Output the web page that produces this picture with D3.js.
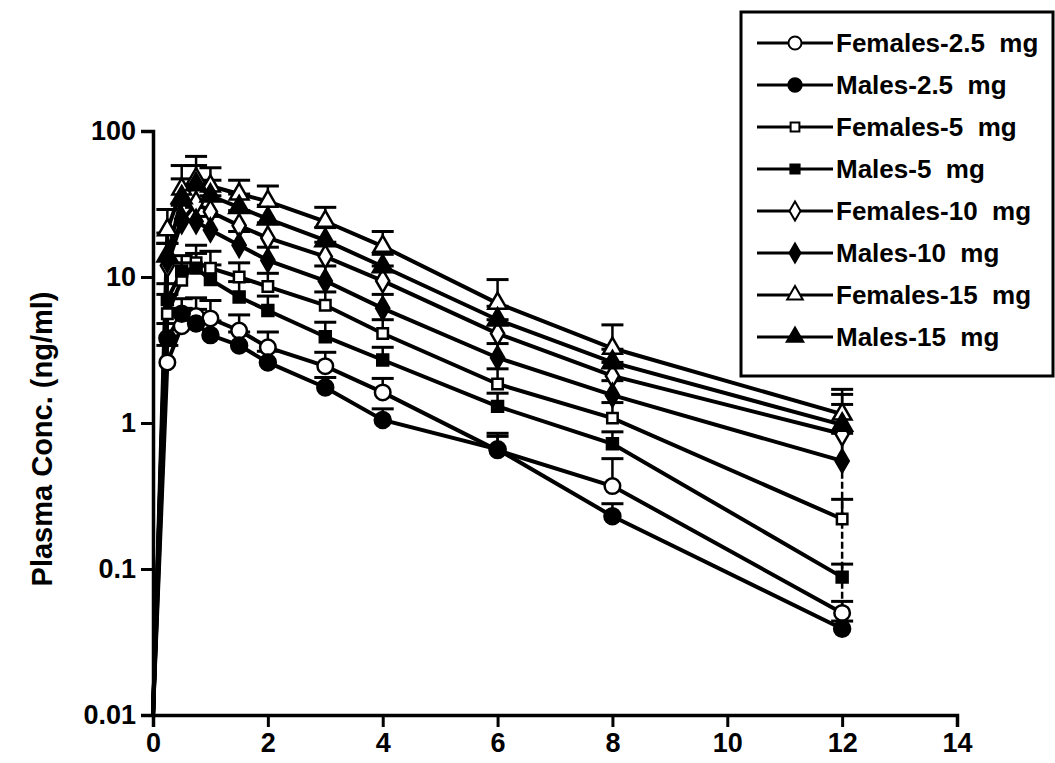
<!DOCTYPE html>
<html>
<head>
<meta charset="utf-8">
<script src="https://cdn.jsdelivr.net/npm/d3@7"></script>
<style>
  body { margin: 0; background: #fff; }
  svg { display: block; }
  text { font-family: "Liberation Sans", Arial, sans-serif; font-weight: bold; fill: #000; }
</style>
</head>
<body>
<div id="chart"></div>
<script>
const WIDTH = 1055;
const HEIGHT = 763;

// sampling times (h)
const hours = [0, 0.25, 0.5, 0.75, 1, 1.5, 2, 3, 4, 6, 8, 12];

const seriesNames = ['Females-2.5  mg', 'Males-2.5  mg', 'Females-5  mg', 'Males-5  mg',
  'Females-10  mg', 'Males-10  mg', 'Females-15  mg', 'Males-15  mg'];

// mean plasma conc. (ng/ml)
const fem25 = [0.01, 2.6, 4.6, 5.4, 5.2, 4.3, 3.3, 2.45, 1.62, 0.65, 0.37, 0.05];
const mal25 = [0.01, 3.8, 5.6, 4.8, 4.0, 3.4, 2.6, 1.75, 1.05, 0.66, 0.23, 0.039];
const fem5 = [0.01, 5.6, 9.5, 12.5, 11.5, 10, 8.6, 6.4, 4.1, 1.85, 1.08, 0.22];
const mal5 = [0.01, 7.0, 11, 11.5, 9.6, 7.3, 5.9, 3.9, 2.7, 1.3, 0.72, 0.088];
const fem10 = [0.01, 12, 24, 32, 28, 22.5, 18.5, 13.8, 9.4, 4.1, 2.1, 0.84];
const mal10 = [0.01, 13, 25, 24, 21, 16.5, 13, 9.4, 6.1, 2.8, 1.55, 0.55];
const fem15 = [0.01, 21, 40, 47, 42, 37, 33, 24, 16.2, 6.6, 3.25, 1.15];
const mal15 = [0.01, 14, 35, 43, 36, 30, 25, 17.8, 11.8, 5.1, 2.6, 0.97];

// upper error bar (SD)
const sdFem25 = [0, 0.8, 1.5, 1.8, 1.7, 1.2, 0.9, 0.6, 0.4, 0.2, 0.2, 0.01];
const sdMal25 = [0, 1.0, 1.5, 1.2, 1.0, 0.8, 0.5, 0.3, 0.2, 0.15, 0.05, 0.005];
const sdFem5 = [0, 2, 3, 4, 3.5, 2.5, 2, 1.5, 1.0, 0.5, 0.3, 0.08];
const sdMal5 = [0, 2, 3, 3, 2.5, 2, 1.5, 1.0, 0.6, 0.3, 0.15, 0.02];
const sdFem10 = [0, 5, 8, 10, 8, 6, 5, 3.5, 2.5, 1.0, 0.5, 0.5];
const sdMal10 = [0, 4, 6, 6, 5, 4, 3, 2.5, 1.5, 0.7, 0.4, 0.3];
const sdFem15 = [0, 8, 18, 20, 14, 9, 9, 6, 4.3, 3, 1.45, 0.55];
const sdMal15 = [0, 6, 12, 15, 10, 7, 6, 4, 2.5, 1.2, 0.6, 0.6];

const yTicks = [0.01, 0.1, 1, 10, 100];
const yTickLabels = ['0.01', '0.1', '1', '10', '100'];
const xTicks = [0, 2, 4, 6, 8, 10, 12, 14];

const means = [fem25, mal25, fem5, mal5, fem10, mal10, fem15, mal15];
const sds = [sdFem25, sdMal25, sdFem5, sdMal5, sdFem10, sdMal10, sdFem15, sdMal15];
const shapes = [d3.symbolCircle, d3.symbolCircle, d3.symbolSquare, d3.symbolSquare,
  d3.symbolDiamond, d3.symbolDiamond, d3.symbolTriangle, d3.symbolTriangle];
const sizes = [190, 200, 110, 120, 150, 150, 150, 170];

const svg = d3.select('#chart').append('svg')
  .attr('width', WIDTH)
  .attr('height', HEIGHT);

const x = d3.scaleLinear().domain([0, 14]).range([153, 957]);
const y = d3.scaleLog().domain([0.01, 100]).range([715, 131]);

// axes
const yAxis = svg.append('g')
  .attr('transform', `translate(${x(0)},0)`)
  .call(d3.axisLeft(y).tickValues(yTicks).tickSize(12).tickPadding(5)
    .tickFormat((d, i) => yTickLabels[i]));
const xAxis = svg.append('g')
  .attr('transform', `translate(0,${y(0.01)})`)
  .call(d3.axisBottom(x).tickValues(xTicks).tickSize(12).tickPadding(6));

[xAxis, yAxis].forEach(a => {
  a.attr('font-size', null).attr('font-family', null);
  a.select('.domain').attr('stroke', '#000').attr('stroke-width', 3.5);
  a.selectAll('.tick line').attr('stroke', '#000').attr('stroke-width', 3);
  a.selectAll('.tick text').style('font-size', '27px').attr('fill', '#000');
});

svg.append('text')
  .attr('transform', `translate(52,${(y(0.01) + y(100)) / 2 + 16}) rotate(-90)`)
  .attr('text-anchor', 'middle')
  .style('font-size', '29px')
  .text('Plasma Conc. (ng/ml)');

const plot = svg.append('g');
const line = d3.line().x((d, i) => x(hours[i])).y(d => y(d));

means.forEach(vals => {
  plot.append('path')
    .attr('d', line(vals))
    .attr('fill', 'none')
    .attr('stroke', '#000')
    .attr('stroke-width', 4);
});

// error bars
means.forEach((vals, s) => {
  vals.forEach((v, i) => {
    if (!sds[s][i]) return;
    const top = y(v + sds[s][i]);
    plot.append('line')
      .attr('x1', x(hours[i])).attr('x2', x(hours[i]))
      .attr('y1', y(v)).attr('y2', top)
      .attr('stroke', '#000').attr('stroke-width', 2.5);
    plot.append('line')
      .attr('x1', x(hours[i]) - 11).attr('x2', x(hours[i]) + 11)
      .attr('y1', top).attr('y2', top)
      .attr('stroke', '#000').attr('stroke-width', 3);
  });
});

// dashed drop line at the last sample
const last = hours.length - 1;
const lastVals = means.map(m => m[last]);
plot.append('line')
  .attr('x1', x(hours[last])).attr('x2', x(hours[last]))
  .attr('y1', y(d3.min(lastVals))).attr('y2', y(d3.max(lastVals)))
  .attr('stroke', '#000').attr('stroke-width', 2.5)
  .attr('stroke-dasharray', '7,3');

// markers
means.forEach((vals, s) => {
  plot.selectAll(null)
    .data(vals.slice(1))
    .join('path')
    .attr('transform', (d, i) => `translate(${x(hours[i + 1])},${y(d)})`)
    .attr('d', d3.symbol().type(shapes[s]).size(sizes[s]))
    .attr('fill', s % 2 === 0 ? '#fff' : '#000')
    .attr('stroke', '#000')
    .attr('stroke-width', 2.5);
});

// legend
const legend = svg.append('g');
legend.append('rect')
  .attr('x', 741).attr('y', 12)
  .attr('width', 312).attr('height', 364)
  .attr('fill', '#fff').attr('stroke', '#000').attr('stroke-width', 3);

seriesNames.forEach((name, s) => {
  const ly = 43 + s * 42;
  legend.append('line')
    .attr('x1', 757).attr('x2', 833).attr('y1', ly).attr('y2', ly)
    .attr('stroke', '#000').attr('stroke-width', 3);
  legend.append('path')
    .attr('transform', `translate(795,${ly})`)
    .attr('d', d3.symbol().type(shapes[s]).size(sizes[s] * 0.7))
    .attr('fill', s % 2 === 0 ? '#fff' : '#000')
    .attr('stroke', '#000').attr('stroke-width', 2);
  legend.append('text')
    .attr('x', 836).attr('y', ly + 9)
    .style('font-size', '26px')
    .style('white-space', 'pre')
    .text(name);
});
</script>
</body>
</html>
